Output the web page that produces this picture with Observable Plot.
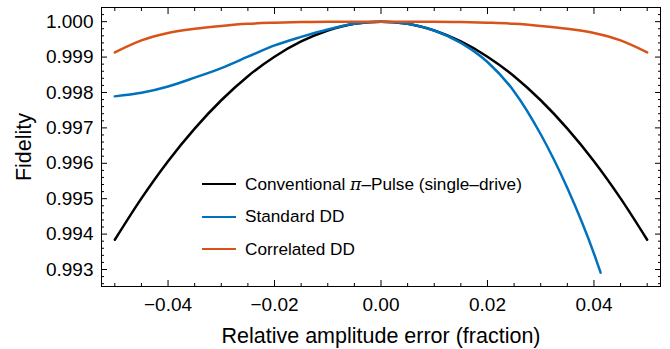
<!DOCTYPE html>
<html><head><meta charset="utf-8">
<script src="https://cdn.jsdelivr.net/npm/d3@7"></script>
<script src="https://cdn.jsdelivr.net/npm/@observablehq/plot@0.6"></script>
<style>
body{margin:0;background:#fff;}
#chart{position:relative;width:670px;height:349px;font-family:"Liberation Sans",Arial,sans-serif;color:#000;}
#legend{position:absolute;left:202px;top:168px;font-size:17.2px;line-height:1;}
.row{display:flex;align-items:center;height:32.5px;}
.sw{width:34px;height:0;border-top:2.5px solid;margin-right:9px;}
.pi{font-family:"DejaVu Serif",serif;font-style:italic;}
</style></head><body><div id="chart"><div id="legend"></div></div>
<script>
// ---- data ----
const xGrid = [-0.05,-0.045,-0.04,-0.035,-0.03,-0.025,-0.02,-0.015,-0.01,-0.005,0,0.005,0.01,0.015,0.02,0.025,0.03,0.035,0.04,0.045,0.05];
const conventional = [0.99384,0.99501,0.99606,0.99698,0.99778,0.99846,0.99901,0.99944,0.99975,0.99994,1.0,0.99994,0.99975,0.99944,0.99901,0.99846,0.99778,0.99698,0.99606,0.99501,0.99384];
const standardX = [-0.05,-0.045,-0.04,-0.035,-0.03,-0.025,-0.02,-0.015,-0.01,-0.005,0,0.005,0.01,0.015,0.02,0.025,0.03,0.035,0.04,0.04125];
const standard = [0.99789,0.99799,0.99817,0.99842,0.99869,0.99901,0.99933,0.99957,0.99978,0.99994,1.0,0.99994,0.99975,0.9994,0.99886,0.99803,0.99682,0.9953,0.99345,0.99291];
const correlated = [0.99913,0.99947,0.99968,0.9998,0.99988,0.99994,0.99997,0.99999,1,1,1,1,1,0.99999,0.99997,0.99994,0.99988,0.9998,0.99968,0.99947,0.99913];
const seriesNames = ["Conventional π–Pulse (single–drive)","Standard DD","Correlated DD"];
const seriesColors = ["#000000","#0072BD","#D95319"];
const xTicks = [-0.04,-0.02,0,0.02,0.04];
const yTicks = [0.993,0.994,0.995,0.996,0.997,0.998,0.999,1.000];
const xTitle = "Relative amplitude error (fraction)";
const yTitle = "Fidelity";

// ---- table for the library ----
const table = [
  ...xGrid.map((x,i)=>({x, y: conventional[i], s: seriesNames[0]})),
  ...standardX.map((x,i)=>({x, y: standard[i], s: seriesNames[1]})),
  ...xGrid.map((x,i)=>({x, y: correlated[i], s: seriesNames[2]}))
];
const xMinor = d3.range(-50,51,5).map(d=>d/1000).filter(d=>!xTicks.some(t=>Math.abs(t-d)<1e-9));
const yMinor = d3.range(9926,10004,2).map(d=>d/10000).filter(d=>!yTicks.some(t=>Math.abs(t-d)<1e-9));
const font = 19;
const titleFont = 21.5;
const blank = () => "";

const chart = Plot.plot({
  width: 670, height: 349,
  marginLeft: 101, marginRight: 10, marginTop: 7, marginBottom: 63,
  style: {fontFamily: '"Liberation Sans", Arial, sans-serif', fontSize: font+"px", color: "#000", background: "#fff"},
  x: {domain: [-0.0525, 0.0525], label: null},
  y: {domain: [0.99252, 1.0004], label: null},
  color: {domain: seriesNames, range: seriesColors},
  marks: [
    Plot.line(table, {x: "x", y: "y", z: "s", stroke: "s", strokeWidth: 2.5, curve: "monotone-x"}),
    Plot.frame({stroke: "#000", strokeWidth: 1}),
    Plot.axisX(xTicks, {anchor: "bottom", tickSize: -6, tickPadding: 17, fontSize: font, tickFormat: d3.format(".2f"), label: null}),
    Plot.axisX({anchor: "bottom", ticks: [], label: xTitle, fontSize: titleFont, labelAnchor: "center", labelOffset: 56, labelArrow: "none", tickSize: 0}),
    Plot.axisX(xTicks, {anchor: "top", tickSize: -6, tickFormat: blank, label: null}),
    Plot.axisX(xMinor, {anchor: "bottom", tickSize: -3, tickFormat: blank, label: null}),
    Plot.axisX(xMinor, {anchor: "top", tickSize: -3, tickFormat: blank, label: null}),
    Plot.axisY(yTicks, {anchor: "left", tickSize: -6, tickPadding: 14, fontSize: font, tickFormat: d3.format(".3f"), label: null}),
    Plot.axisY({anchor: "left", ticks: [], label: yTitle, fontSize: titleFont, labelAnchor: "center", labelOffset: 86, labelArrow: "none", tickSize: 0}),
    Plot.axisY(yTicks, {anchor: "right", tickSize: -6, tickFormat: blank, label: null}),
    Plot.axisY(yMinor, {anchor: "left", tickSize: -3, tickFormat: blank, label: null}),
    Plot.axisY(yMinor, {anchor: "right", tickSize: -3, tickFormat: blank, label: null})
  ]
});
document.getElementById("chart").prepend(chart);

// legend
const lg = document.getElementById("legend");
seriesNames.forEach((n,i)=>{
  const row = document.createElement("div"); row.className = "row";
  const sw = document.createElement("div"); sw.className = "sw"; sw.style.borderTopColor = seriesColors[i];
  const tx = document.createElement("span");
  if (n.includes("π")) {
    const [a,b] = n.split("π");
    tx.append(a); const p = document.createElement("span"); p.className="pi"; p.textContent="π"; tx.append(p); tx.append(b);
  } else tx.textContent = n;
  row.append(sw, tx); lg.append(row);
});
</script></body></html>
